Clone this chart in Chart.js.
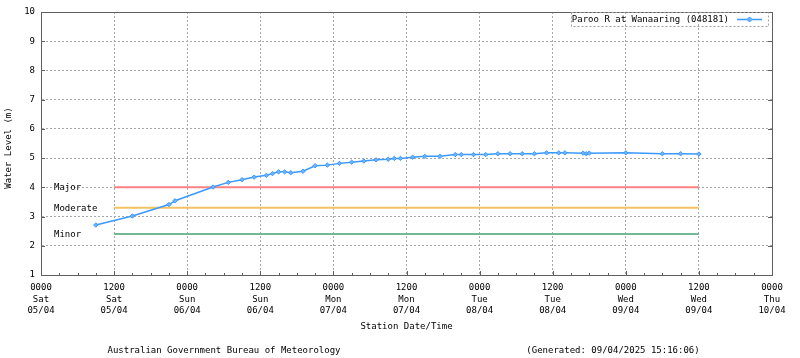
<!DOCTYPE html>
<html><head><meta charset="utf-8">
<script src="https://cdn.jsdelivr.net/npm/chart.js@4/dist/chart.umd.min.js"></script>
<style>html,body{margin:0;padding:0;background:#fff;}#wrap{width:800px;height:358px;}</style>
</head><body><div id="wrap"><canvas id="c" width="800" height="358"></canvas></div>
<script>
// Hours since 0000 Sat 05/04
const hours  = [9, 15, 21, 22, 28.25, 30.75, 33, 35, 37, 38, 39, 40, 41, 43, 45, 47, 49, 51, 53, 55, 57, 58, 59, 61, 63, 65.5, 68, 69, 71, 73, 75, 77, 79, 81, 83, 85, 86, 89, 89.5, 90, 96, 102, 105, 108];
const levels = [2.71, 3.02, 3.41, 3.54, 4.01, 4.17, 4.26, 4.35, 4.41, 4.47, 4.53, 4.53, 4.50, 4.55, 4.74, 4.76, 4.82, 4.86, 4.90, 4.94, 4.96, 4.99, 4.99, 5.03, 5.06, 5.06, 5.12, 5.12, 5.12, 5.12, 5.15, 5.15, 5.15, 5.15, 5.18, 5.18, 5.18, 5.17, 5.15, 5.17, 5.18, 5.15, 5.15, 5.14];
const seriesName = 'Paroo R at Wanaaring (048181)';

const xTickValues = [0, 12, 24, 36, 48, 60, 72, 84, 96, 108, 120];
const xTickTimes  = ['0000','1200','0000','1200','0000','1200','0000','1200','0000','1200','0000'];
const xTickDays   = ['Sat','Sat','Sun','Sun','Mon','Mon','Tue','Tue','Wed','Wed','Thu'];
const xTickDates  = ['05/04','05/04','06/04','06/04','07/04','07/04','08/04','08/04','09/04','09/04','10/04'];

const thresholdNames  = ['Major', 'Moderate', 'Minor'];
const thresholdLevels = [4.0, 3.3, 2.4];
const thresholdFrom = 12, thresholdTo = 108;

const yTitle = 'Water Level (m)';
const xTitle = 'Station Date/Time';
const footLeft = 'Australian Government Bureau of Meteorology';
const footRight = '(Generated: 09/04/2025 15:16:06)';

const thresholdColors = ['#ff8282', '#f4c262', '#72b995'];
const FONT = '9px "DejaVu Sans Mono"';

Chart.defaults.font.family = 'DejaVu Sans Mono';
Chart.defaults.font.size = 9;
Chart.defaults.color = '#000';

const datasets = [{
  label: seriesName,
  data: hours.map((h, i) => ({x: h, y: levels[i]})),
  borderColor: '#3b98ff',
  backgroundColor: '#6fb4ff',
  borderWidth: 1.5,
  pointStyle: 'rectRot',
  pointRadius: 2.2,
  pointBorderWidth: 1,
  pointBorderColor: '#3b98ff',
  tension: 0
}];
thresholdNames.forEach((n, i) => {
  datasets.push({
    label: n,
    data: [{x: thresholdFrom, y: thresholdLevels[i]}, {x: thresholdTo, y: thresholdLevels[i]}],
    borderColor: thresholdColors[i],
    borderWidth: 2,
    pointRadius: 0
  });
});

const deco = {
  id: 'deco',
  afterDraw(chart) {
    const {ctx, chartArea: a, scales: {x, y}} = chart;
    ctx.save();
    // plot box
    ctx.strokeStyle = '#606060';
    ctx.lineWidth = 1;
    ctx.strokeRect(Math.round(a.left) + 0.5, Math.round(a.top) + 0.5, Math.round(a.right - a.left), Math.round(a.bottom - a.top));
    // inward ticks
    ctx.beginPath();
    for (let v = 0; v <= 120; v += 3) {
      const px = Math.round(x.getPixelForValue(v)) + 0.5;
      const len = (v % 12 === 0) ? 4 : 2;
      ctx.moveTo(px, a.bottom); ctx.lineTo(px, a.bottom - len);
    }
    for (let v = 1; v <= 10; v++) {
      const py = Math.round(y.getPixelForValue(v)) + 0.5;
      ctx.moveTo(a.left, py); ctx.lineTo(a.left + 4, py);
      ctx.moveTo(a.right, py); ctx.lineTo(a.right - 4, py);
    }
    ctx.stroke();
    // threshold labels
    ctx.font = FONT;
    ctx.fillStyle = '#000';
    ctx.textBaseline = 'middle';
    ctx.textAlign = 'left';
    thresholdNames.forEach((n, i) => {
      ctx.fillText(n, a.left + 13, y.getPixelForValue(thresholdLevels[i]) + 0.5);
    });
    // legend
    const lx0 = 571, lx1 = 768, ly0 = a.top, ly1 = a.top + 14;
    ctx.strokeStyle = '#a0a0a0';
    ctx.setLineDash([2, 2]);
    ctx.strokeRect(lx0 + 0.5, ly0 + 0.5, lx1 - lx0, ly1 - ly0);
    ctx.setLineDash([]);
    ctx.textAlign = 'right';
    ctx.fillText(seriesName, 729, (ly0 + ly1) / 2 + 1);
    const my = Math.round((ly0 + ly1) / 2) + 0.5;
    ctx.strokeStyle = '#3b98ff';
    ctx.lineWidth = 1.5;
    ctx.beginPath(); ctx.moveTo(737, my); ctx.lineTo(762, my); ctx.stroke();
    ctx.fillStyle = '#6fb4ff';
    ctx.beginPath();
    ctx.moveTo(749.5, my - 2.5); ctx.lineTo(752, my); ctx.lineTo(749.5, my + 2.5); ctx.lineTo(747, my); ctx.closePath();
    ctx.fill();
    ctx.lineWidth = 1; ctx.stroke();
    // titles
    ctx.fillStyle = '#000';
    ctx.textAlign = 'center';
    ctx.fillText(xTitle, (a.left + a.right) / 2, 327);
    ctx.fillText(footRight, 613, 351);
    ctx.fillText(footLeft, 224, 351);
    ctx.save();
    ctx.translate(9, 148);
    ctx.rotate(-Math.PI / 2);
    ctx.fillText(yTitle, 0, 0);
    ctx.restore();
    ctx.restore();
  }
};

new Chart(document.getElementById('c'), {
  type: 'line',
  data: {datasets},
  options: {
    responsive: false,
    animation: false,
    devicePixelRatio: 1,
    layout: {padding: {top: 12, right: 28, left: 0, bottom: 0}},
    plugins: {legend: {display: false}, tooltip: {enabled: false}},
    scales: {
      x: {
        type: 'linear', min: 0, max: 120,
        afterBuildTicks: s => { s.ticks = xTickValues.map(v => ({value: v})); },
        afterFit: s => { s.height = 83; },
        ticks: {
          maxRotation: 0, autoSkip: false, padding: 7,
          font: {size: 9, lineHeight: 1.28},
          callback: (v, i) => [xTickTimes[i], xTickDays[i], xTickDates[i]]
        },
        grid: {
          drawTicks: false,
          color: c => (c.tick && (c.tick.value === 0 || c.tick.value === 120)) ? 'rgba(0,0,0,0)' : '#a8a8a8'
        },
        border: {display: true, color: '#606060', dash: [2, 2]}
      },
      y: {
        min: 1, max: 10,
        afterFit: s => { s.width = 41; },
        ticks: {stepSize: 1, padding: 6},
        grid: {
          drawTicks: false,
          color: c => (c.tick && (c.tick.value === 1 || c.tick.value === 10)) ? 'rgba(0,0,0,0)' : '#a8a8a8'
        },
        border: {display: true, color: '#606060', dash: [2, 2]}
      }
    }
  },
  plugins: [deco]
});
</script>
</body></html>
